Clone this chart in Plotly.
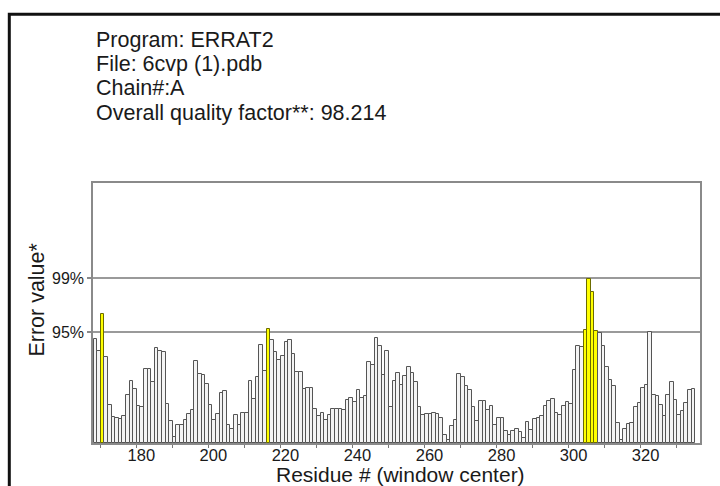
import plotly.graph_objects as go

# ---------------- data ----------------
first_residue = 168
# error value per residue (window center), same units as the 95% / 99% lines below
error_values = [
    10.42, 9.18, 12.95, 8.65, 3.85, 2.60, 2.55, 2.43, 2.75, 4.85,   # 168-177
    6.22, 5.42, 3.68, 3.62, 7.42, 7.43, 6.08, 9.46, 9.16, 9.08,      # 178-187
    3.90, 2.22, 0.62, 1.82, 1.84, 2.35, 2.92, 3.32, 8.25, 6.87,      # 188-197
    6.78, 5.95, 3.82, 2.35, 2.95, 5.00, 5.16, 1.85, 1.42, 2.85,      # 198-207
    1.85, 3.02, 3.00, 6.25, 4.42, 6.60, 9.78, 7.18, 11.42, 10.28,    # 208-217
    9.12, 8.35, 8.75, 10.12, 10.28, 8.94, 7.12, 7.10, 5.44, 5.52,    # 218-227
    5.46, 3.44, 2.68, 3.02, 2.28, 2.80, 3.44, 3.45, 3.43, 3.28,      # 228-237
    4.28, 4.52, 4.08, 5.30, 4.46, 4.68, 8.08, 7.85, 10.55, 9.68,     # 238-247
    6.85, 9.20, 3.60, 6.25, 7.05, 5.78, 6.75, 7.64, 7.02, 6.14,      # 248-257
    3.58, 2.85, 2.95, 2.94, 2.96, 2.93, 2.52, 0.78, 0.35, 1.75,      # 258-267
    2.28, 6.88, 6.62, 5.72, 5.28, 3.62, 2.25, 4.18, 4.16, 3.35,      # 268-277
    3.68, 1.78, 2.52, 2.46, 1.25, 0.85, 1.18, 1.42, 1.08, 0.52,      # 278-287
    2.08, 1.35, 2.42, 2.52, 2.75, 3.75, 4.25, 4.42, 3.02, 2.85,      # 288-297
    3.75, 4.08, 3.95, 7.35, 9.68, 9.62, 11.26, 16.45, 15.08, 11.24,  # 298-307
    11.02, 9.75, 7.58, 6.35, 5.75, 2.02, 0.35, 1.42, 1.95, 2.02,     # 308-317
    3.62, 4.02, 5.55, 5.85, 11.06, 4.85, 4.68, 3.85, 2.75, 4.78,     # 318-327
    6.08, 4.35, 2.78, 3.25, 4.02, 5.28, 5.42,                        # 328-334
]
residues = list(range(first_residue, first_residue + len(error_values)))

level_95 = 11.1
level_99 = 16.5
y_tick_vals = [level_95, level_99]
y_tick_text = ["95%", "99%"]

x_tick_vals = list(range(170, 331, 10))
x_tick_text = [str(v) if v % 20 == 0 else "" for v in x_tick_vals]

header_lines = [
    "Program: ERRAT2",
    "File: 6cvp (1).pdb",
    "Chain#:A",
    "Overall quality factor**: 98.214",
]

# ---------------- figure ----------------
FONT = "Liberation Sans, Arial, sans-serif"
W, H = 720, 486
L, R, T, B = 93, 700, 183.3, 443.5   # plot area in pixels


def px(X):
    return (X - L) / (R - L)


def py(Y):
    return (B - Y) / (B - T)


fill = ["#ffff00" if v > level_95 else "#f4f4f4" for v in error_values]
edge = ["#6b6b00" if v > level_95 else "#555555" for v in error_values]

fig = go.Figure()
fig.add_trace(go.Bar(
    x=residues, y=error_values,
    width=1, offset=0.14,
    marker=dict(color=fill, line=dict(color=edge, width=1)),
    hoverinfo="x+y",
))

fig.update_layout(
    width=W, height=H,
    margin=dict(l=L, r=W - R, t=T, b=H - B, pad=0),
    paper_bgcolor="white", plot_bgcolor="white",
    showlegend=False, bargap=0,
    font=dict(family=FONT, color="#1a1a1a"),
)

fig.update_xaxes(
    range=[167.97, 336.48],
    tickmode="array", tickvals=x_tick_vals, ticktext=x_tick_text,
    ticks="outside", ticklen=3, tickwidth=1, tickcolor="#777777",
    ticklabelshift=5, ticklabelstandoff=-7,
    tickfont=dict(size=16.5, color="#1a1a1a", family=FONT),
    showgrid=False, zeroline=False,
    showline=True, linecolor="#8a8a8a", linewidth=1.5, mirror=True,
)
fig.update_yaxes(
    range=[0, 26.02],
    tickmode="array", tickvals=y_tick_vals, ticktext=y_tick_text,
    ticks="outside", ticklen=4, tickwidth=1.5, tickcolor="#8a8a8a",
    tickfont=dict(size=16, color="#1a1a1a", family=FONT),
    showgrid=True, gridcolor="#9a9a9a", gridwidth=2,
    zeroline=False,
    showline=True, linecolor="#8a8a8a", linewidth=1.5, mirror=True,
)

# outer black frame
fig.add_shape(type="rect", xref="paper", yref="paper",
              x0=px(9.3), x1=px(740), y0=py(500), y1=py(14.3),
              line=dict(color="#111111", width=3), fillcolor="rgba(0,0,0,0)",
              layer="above")

# header text lines
for i, line in enumerate(header_lines):
    fig.add_annotation(text=line, xref="paper", yref="paper",
                       x=px(94), y=py(40 + 24.3 * i), xanchor="left", yanchor="middle",
                       showarrow=False, font=dict(size=21.5, family=FONT, color="#1a1a1a"))

# axis titles
fig.add_annotation(text="Error value*", xref="paper", yref="paper",
                   x=px(37), y=py(300), xanchor="center", yanchor="middle",
                   textangle=-90, showarrow=False,
                   font=dict(size=21.5, family=FONT, color="#1a1a1a"))
fig.add_annotation(text="Residue # (window center)", xref="paper", yref="paper",
                   x=px(400), y=py(475), xanchor="center", yanchor="middle",
                   showarrow=False,
                   font=dict(size=21, family=FONT, color="#1a1a1a"))

fig.write_html("out.html",
               config={"displayModeBar": False},
               post_script="document.body.style.margin='0';"
                           "document.documentElement.style.overflow='hidden';")
